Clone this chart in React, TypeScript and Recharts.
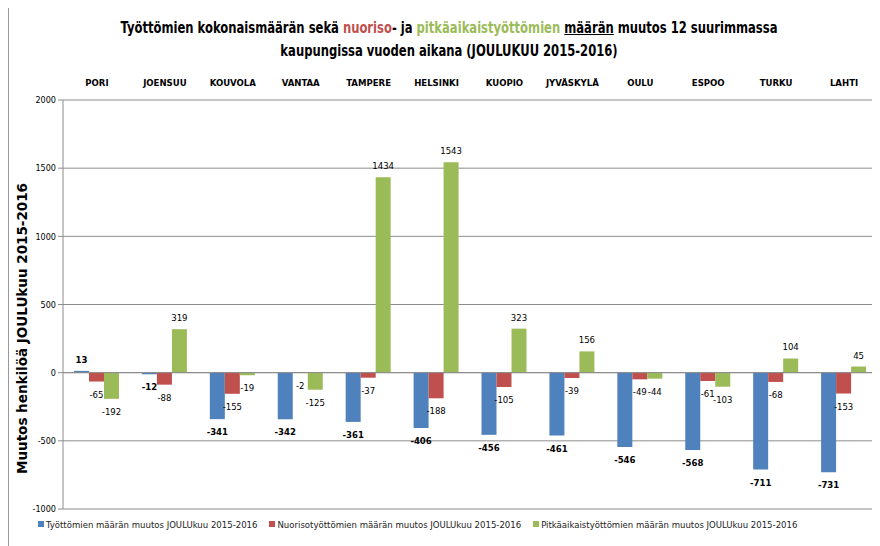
import React from 'react';
import { BarChart, Bar, XAxis, YAxis, CartesianGrid, Legend, ReferenceLine, LabelList } from 'recharts';

// Kaupungit ja muutokset JOULUkuu 2015-2016
const kaupungit = ['PORI', 'JOENSUU', 'KOUVOLA', 'VANTAA', 'TAMPERE', 'HELSINKI', 'KUOPIO', 'JYVÄSKYLÄ', 'OULU', 'ESPOO', 'TURKU', 'LAHTI'];
const tyottomat = [13, -12, -341, -342, -361, -406, -456, -461, -546, -568, -711, -731];
const nuoriso = [-65, -88, -155, -2, -37, -188, -105, -39, -49, -61, -68, -153];
const pitkaaikais = [-192, 319, -19, -125, 1434, 1543, 323, 156, -44, -103, 104, 45];
const yTicks = [-1000, -500, 0, 500, 1000, 1500, 2000];

const sarjat = [
    { key: 'tyottomat', name: 'Työttömien määrän muutos JOULUkuu 2015-2016', color: '#4F81BD', bold: true },
    { key: 'nuoriso', name: 'Nuorisotyöttömien määrän muutos JOULUkuu 2015-2016', color: '#C0504D', bold: false },
    { key: 'pitkaaikais', name: 'Pitkäaikaistyöttömien määrän muutos JOULUkuu 2015-2016', color: '#9BBB59', bold: false },
];

const data = kaupungit.map((name, i) => ({
    name,
    tyottomat: tyottomat[i],
    nuoriso: nuoriso[i],
    pitkaaikais: pitkaaikais[i],
}));

const FONT = '"DejaVu Sans Condensed", "Liberation Sans", sans-serif';

// Arvon nimiö palkin pään yläpuolelle (positiivinen) tai alapuolelle (negatiivinen)
const arvoLabel = (bold: boolean) => (props: any) => {
    const { x, y, width, value } = props;
    const cx = Number(x) + Number(width) / 2;
    const ty = value < 0 ? Number(y) + 16 : Number(y) - 8;
    return (
        <text x={cx} y={ty} textAnchor="middle" fontFamily={FONT} fontSize={9.5}
            fontWeight={bold ? 700 : 400} fill="#000">
            {value}
        </text>
    );
};

const Selite = () => (
    <div style={{ display: 'flex', gap: 12, paddingLeft: 29, paddingTop: 4, height: 26, boxSizing: 'border-box', alignItems: 'center', fontFamily: FONT, fontSize: 9.5, color: '#222', whiteSpace: 'nowrap' }}>
        {sarjat.map((s) => (
            <span key={s.key} style={{ display: 'flex', alignItems: 'center', gap: 2 }}>
                <span style={{ width: 6, height: 6, background: s.color, display: 'inline-block' }} />
                {s.name}
            </span>
        ))}
    </div>
);

const App: React.FC = () => (
    <div style={{ position: 'relative', width: 872, height: 538, borderLeft: '1px solid #999', boxSizing: 'border-box' }}>
        <div style={{ position: 'absolute', top: 8, left: 0, width: 880, textAlign: 'center', fontFamily: FONT, fontWeight: 700, fontSize: 16.5, lineHeight: '23px', color: '#000', whiteSpace: 'nowrap', transform: 'scaleX(0.78)', transformOrigin: '440px 0' }}>
            Työttömien kokonaismäärän sekä <span style={{ color: '#C0504D' }}>nuoriso</span>- ja{' '}
            <span style={{ color: '#9BBB59' }}>pitkäaikaistyöttömien</span>{' '}
            <span style={{ textDecoration: 'underline' }}>määrän</span> muutos 12 suurimmassa
            <br />
            kaupungissa vuoden aikana (JOULUKUU 2015-2016)
        </div>
        <BarChart width={871} height={538} data={data} barGap={0} barCategoryGap={11}
            margin={{ top: 62, right: 2, bottom: 11, left: 0 }}>
            <CartesianGrid vertical={false} stroke="#8c8c8c" />
            <XAxis dataKey="name" orientation="top" axisLine={false} tickLine={false} height={30} tickMargin={8}
                tick={{ fontFamily: FONT, fontSize: 9.5, fontWeight: 700, fill: '#000' }} />
            <YAxis domain={[-1000, 2000]} ticks={yTicks} width={54} stroke="#8c8c8c" tickSize={5}
                tick={{ fontFamily: FONT, fontSize: 9, fill: '#000' }}
                label={(props: any) => {
                    const vb = props.viewBox || {};
                    const cx = 13;
                    const cy = (vb.y ?? 92) + (vb.height ?? 409) / 2 + 24;
                    return (
                        <text x={cx} y={cy} transform={`rotate(-90 ${cx} ${cy})`} textAnchor="middle"
                            dominantBaseline="central" fontFamily='"DejaVu Sans", sans-serif' fontSize={13.5} fontWeight={700} fill="#000">
                            Muutos henkilöä JOULUkuu 2015-2016
                        </text>
                    );
                }} />
            <ReferenceLine y={0} stroke="#8c8c8c" />
            <Legend verticalAlign="bottom" content={() => <Selite />} />
            {sarjat.map((s) => (
                <Bar key={s.key} dataKey={s.key} name={s.name} fill={s.color} isAnimationActive={false}>
                    <LabelList dataKey={s.key} content={arvoLabel(s.bold)} />
                </Bar>
            ))}
        </BarChart>
    </div>
);

export default App;
